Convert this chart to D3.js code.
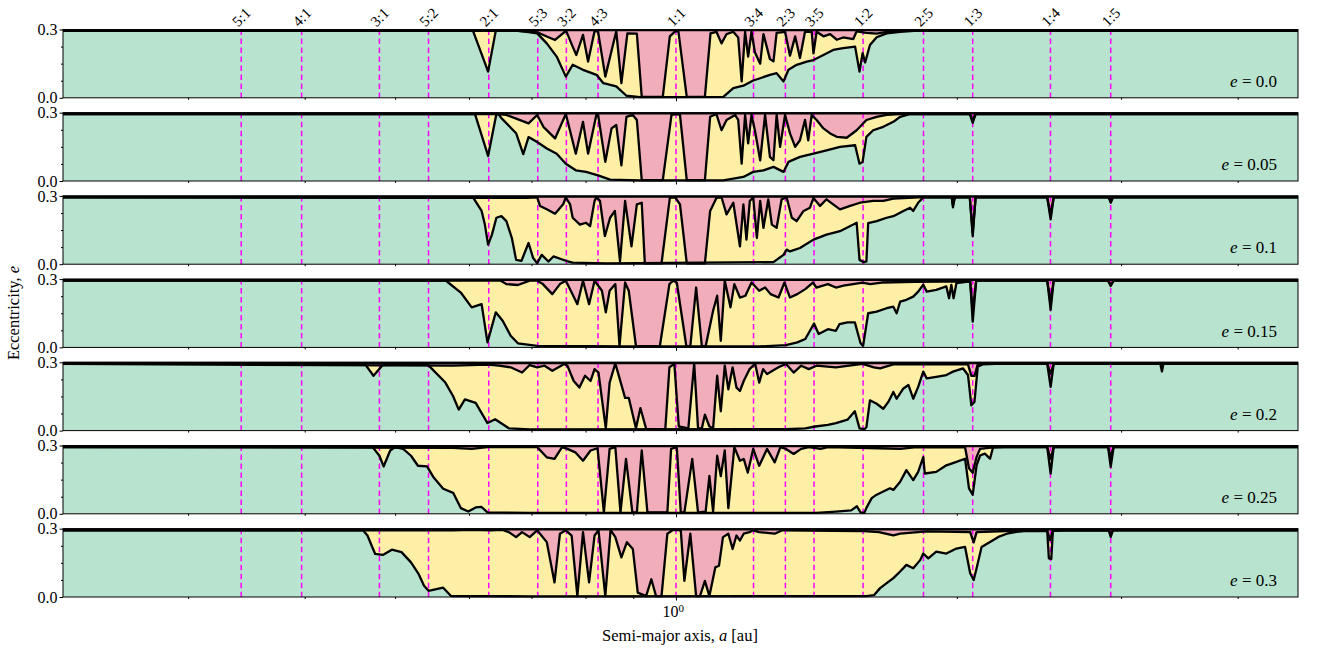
<!DOCTYPE html>
<html>
<head>
<meta charset="UTF-8">
<title>Stability map</title>
<style>
    body { margin: 0; padding: 0; background: #ffffff; }
    svg text { font-family: "Liberation Serif", "DejaVu Serif", serif; fill: #000; }
</style>
</head>
<body>
<script src="https://cdn.jsdelivr.net/npm/d3@7"></script>
<svg id="chart" width="1326" height="655"></svg>
<script>
    // panel labels (initial eccentricity)
    const eccLabels = ["0.0", "0.05", "0.1", "0.15", "0.2", "0.25", "0.3"];

    // mean motion resonances
    const resNames = ["5:1", "4:1", "3:1", "5:2", "2:1", "5:3", "3:2", "4:3", "1:1",
                      "3:4", "2:3", "3:5", "1:2", "2:5", "1:3", "1:4", "1:5"];
    const resA = [0.342, 0.397, 0.481, 0.543, 0.630, 0.711, 0.763, 0.825, 1.0,
                  1.211, 1.310, 1.406, 1.587, 1.842, 2.080, 2.520, 2.924];

    const topLevel = [0.297, 0.297, 0.297, 0.297, 0.297, 0.297, 0.297];

    // boundary green/yellow  [a, e]
    const lower1 = [[0.2203,.294],[0.606,.294],[0.629,.115],[0.641,.294],[0.677,.294],[0.695,.289],[0.710,.283],[0.727,.239],[0.745,.181],[0.762,.093],[0.775,.145],[0.795,.123],[0.822,.101],[0.836,.064],[0.863,.050],[0.885,.009],[0.915,.003],[1.124,.004],[1.152,.042],[1.181,.053],[1.210,.076],[1.231,.086],[1.261,.101],[1.282,.108],[1.304,.072],[1.320,.123],[1.347,.145],[1.381,.159],[1.404,.166],[1.439,.188],[1.474,.210],[1.511,.218],[1.556,.225],[1.573,.115],[1.585,.196],[1.595,.155],[1.614,.232],[1.641,.266],[1.682,.283],[1.739,.290],[1.80,.294],[4.642,.294]];
    const lower2 = [[0.2203,.294],[0.609,.294],[0.629,.110],[0.642,.294],[0.645,.294],[0.650,.276],[0.674,.210],[0.686,.118],[0.695,.193],[0.710,.171],[0.727,.143],[0.745,.120],[0.762,.076],[0.781,.047],[0.801,.040],[0.825,.025],[0.850,.006],[0.915,.003],[1.124,.003],[1.152,.010],[1.181,.018],[1.210,.040],[1.241,.047],[1.272,.062],[1.304,.040],[1.320,.084],[1.358,.106],[1.404,.120],[1.450,.135],[1.499,.150],[1.556,.157],[1.573,.076],[1.585,.084],[1.600,.194],[1.627,.223],[1.668,.238],[1.710,.260],[1.739,.282],[1.78,.294],[2.065,.294],[2.080,.255],[2.095,.294],[4.642,.294]];
    const lower3 = [[0.2203,.294],[0.606,.293],[0.619,.234],[0.624,.174],[0.629,.086],[0.635,.130],[0.642,.204],[0.650,.211],[0.658,.189],[0.667,.115],[0.674,.019],[0.683,.015],[0.695,.093],[0.703,.027],[0.710,.004],[0.718,.041],[0.730,.012],[0.739,.034],[0.762,.015],[0.775,.007],[0.842,.004],[1.272,.009],[1.304,.041],[1.314,.064],[1.325,.056],[1.358,.071],[1.404,.108],[1.450,.130],[1.499,.145],[1.549,.174],[1.562,.182],[1.573,.019],[1.590,.009],[1.600,.012],[1.607,.180],[1.641,.189],[1.682,.204],[1.710,.211],[1.753,.234],[1.782,.248],[1.796,.234],[1.818,.270],[1.841,.294],[1.975,.294],[1.981,.250],[1.990,.294],[2.065,.294],[2.080,.123],[2.095,.294],[2.500,.294],[2.521,.197],[2.540,.294],[2.910,.294],[2.924,.270],[2.940,.294],[4.642,.294]];
    const lower4 = [[0.2203,.293],[0.567,.293],[0.570,.285],[0.588,.241],[0.604,.176],[0.619,.190],[0.628,.022],[0.641,.154],[0.652,.117],[0.665,.051],[0.677,.018],[0.710,.007],[0.810,.006],[0.874,.004],[1.228,.004],[1.312,.010],[1.349,.022],[1.376,.037],[1.406,.105],[1.422,.059],[1.455,.080],[1.484,.073],[1.497,.102],[1.527,.110],[1.555,.110],[1.577,.018],[1.587,.007],[1.607,.150],[1.641,.157],[1.682,.172],[1.710,.179],[1.724,.150],[1.739,.201],[1.766,.209],[1.796,.223],[1.818,.245],[1.841,.275],[1.857,.245],[1.901,.253],[1.949,.268],[1.962,.216],[1.973,.275],[1.984,.216],[1.998,.282],[2.067,.290],[2.080,.113],[2.098,.293],[2.500,.293],[2.521,.165],[2.540,.293],[2.905,.293],[2.924,.270],[2.945,.293],[4.642,.293]];
    const lower5 = [[0.2203,.293],[0.464,.293],[0.474,.241],[0.485,.288],[0.541,.293],[0.548,.270],[0.566,.211],[0.577,.151],[0.585,.092],[0.594,.137],[0.610,.122],[0.628,.033],[0.640,.050],[0.662,.010],[0.697,.005],[1.312,.006],[1.376,.010],[1.410,.018],[1.455,.025],[1.484,.033],[1.527,.048],[1.555,.085],[1.573,.010],[1.592,.006],[1.600,.015],[1.614,.133],[1.641,.118],[1.668,.096],[1.689,.126],[1.710,.170],[1.724,.140],[1.753,.185],[1.775,.200],[1.796,.140],[1.818,.192],[1.841,.259],[1.857,.229],[1.901,.236],[1.949,.244],[1.981,.259],[2.031,.273],[2.056,.244],[2.073,.111],[2.089,.126],[2.106,.281],[2.131,.291],[2.200,.293],[2.500,.293],[2.521,.192],[2.540,.293],[3.305,.293],[3.318,.260],[3.330,.293],[4.642,.293]];
    const lower6 = [[0.2203,.293],[0.473,.293],[0.481,.255],[0.486,.208],[0.494,.278],[0.500,.293],[0.510,.285],[0.520,.255],[0.529,.211],[0.541,.208],[0.550,.159],[0.563,.110],[0.577,.092],[0.588,.025],[0.599,.010],[0.610,.028],[0.619,.030],[0.628,.006],[0.697,.004],[1.414,.004],[1.484,.010],[1.541,.015],[1.563,.033],[1.577,.006],[1.592,.004],[1.600,.026],[1.621,.069],[1.641,.084],[1.668,.098],[1.696,.112],[1.710,.105],[1.739,.141],[1.766,.192],[1.796,.148],[1.818,.184],[1.841,.249],[1.848,.177],[1.901,.184],[1.949,.213],[1.998,.228],[2.041,.242],[2.061,.112],[2.080,.084],[2.100,.213],[2.118,.256],[2.143,.264],[2.171,.242],[2.187,.292],[2.250,.293],[2.500,.293],[2.521,.177],[2.540,.293],[2.905,.293],[2.924,.206],[2.945,.293],[4.642,.293]];
    const lower7 = [[0.2203,.293],[0.462,.293],[0.467,.270],[0.476,.189],[0.485,.185],[0.496,.208],[0.508,.197],[0.520,.152],[0.530,.100],[0.537,.049],[0.543,.027],[0.563,.041],[0.574,.004],[0.700,.003],[1.600,.004],[1.630,.008],[1.655,.039],[1.682,.061],[1.710,.083],[1.739,.112],[1.766,.141],[1.796,.126],[1.827,.162],[1.841,.191],[1.864,.170],[1.901,.199],[1.949,.191],[1.998,.213],[2.041,.220],[2.067,.104],[2.085,.075],[2.100,.126],[2.126,.220],[2.171,.242],[2.216,.264],[2.263,.278],[2.318,.286],[2.375,.290],[2.500,.290],[2.510,.170],[2.525,.167],[2.535,.290],[2.600,.293],[2.910,.293],[2.924,.264],[2.940,.293],[4.642,.293]];

    // boundary yellow/pink  [a, e]
    const upper1 = [[0.2203,.294],[0.677,.294],[0.695,.292],[0.710,.288],[0.727,.269],[0.742,.254],[0.760,.290],[0.763,.292],[0.775,.225],[0.782,.188],[0.795,.276],[0.805,.159],[0.818,.292],[0.825,.292],[0.840,.093],[0.863,.292],[0.874,.064],[0.887,.283],[0.908,.282],[0.919,.004],[0.968,.004],[0.985,.270],[0.998,.292],[1.006,.292],[1.027,.004],[1.074,.004],[1.089,.283],[1.105,.290],[1.119,.239],[1.133,.280],[1.152,.290],[1.166,.265],[1.176,.072],[1.186,.290],[1.195,.181],[1.205,.290],[1.215,.200],[1.231,.150],[1.241,.280],[1.261,.170],[1.272,.160],[1.282,.285],[1.309,.290],[1.325,.185],[1.342,.270],[1.358,.175],[1.375,.290],[1.398,.290],[1.404,.195],[1.415,.290],[1.439,.270],[1.463,.280],[1.487,.255],[1.511,.265],[1.549,.258],[1.562,.292],[1.600,.285],[1.641,.282],[1.682,.290],[1.739,.294],[4.642,.294]];
    const upper2 = [[0.2203,.294],[0.645,.294],[0.658,.290],[0.695,.253],[0.710,.290],[0.721,.238],[0.742,.187],[0.762,.294],[0.781,.120],[0.795,.260],[0.805,.120],[0.822,.294],[0.825,.294],[0.840,.084],[0.853,.231],[0.863,.246],[0.874,.069],[0.885,.282],[0.899,.290],[0.908,.268],[0.919,.004],[0.968,.004],[0.989,.290],[1.002,.294],[1.010,.290],[1.027,.004],[1.074,.004],[1.088,.282],[1.105,.294],[1.119,.223],[1.133,.268],[1.157,.290],[1.166,.268],[1.176,.076],[1.186,.290],[1.195,.165],[1.205,.290],[1.215,.223],[1.231,.091],[1.246,.290],[1.261,.106],[1.272,.091],[1.282,.290],[1.293,.150],[1.309,.290],[1.325,.209],[1.342,.150],[1.358,.179],[1.375,.268],[1.386,.179],[1.398,.290],[1.415,.268],[1.439,.231],[1.463,.209],[1.487,.194],[1.524,.190],[1.562,.223],[1.600,.268],[1.641,.282],[1.682,.290],[1.739,.294],[2.065,.294],[2.080,.270],[2.095,.294],[4.642,.294]];
    const upper3 = [[0.2203,.294],[0.692,.291],[0.710,.294],[0.715,.256],[0.727,.241],[0.742,.222],[0.757,.263],[0.762,.294],[0.770,.263],[0.775,.204],[0.789,.174],[0.801,.182],[0.809,.167],[0.818,.278],[0.822,.294],[0.829,.278],[0.839,.123],[0.850,.204],[0.860,.234],[0.871,.012],[0.882,.278],[0.896,.078],[0.908,.263],[0.919,.270],[0.926,.004],[0.965,.004],[0.985,.291],[0.998,.294],[1.010,.263],[1.027,.004],[1.074,.004],[1.088,.234],[1.105,.291],[1.119,.294],[1.133,.219],[1.152,.270],[1.171,.078],[1.181,.263],[1.190,.108],[1.200,.278],[1.210,.294],[1.221,.115],[1.231,.278],[1.241,.160],[1.256,.285],[1.267,.174],[1.282,.160],[1.298,.285],[1.314,.294],[1.331,.204],[1.347,.189],[1.370,.234],[1.392,.248],[1.404,.291],[1.427,.256],[1.450,.285],[1.474,.263],[1.499,.241],[1.537,.256],[1.575,.270],[1.627,.278],[1.668,.278],[1.710,.288],[1.822,.294],[1.975,.294],[1.981,.260],[1.990,.294],[2.065,.294],[2.080,.140],[2.095,.294],[2.500,.294],[2.521,.215],[2.540,.294],[2.910,.294],[2.924,.275],[2.940,.294],[4.642,.294]];
    const upper4 = [[0.2203,.293],[0.649,.293],[0.658,.278],[0.677,.274],[0.697,.293],[0.710,.293],[0.720,.278],[0.737,.234],[0.751,.278],[0.762,.293],[0.773,.241],[0.784,.190],[0.795,.293],[0.807,.190],[0.818,.293],[0.833,.249],[0.841,.154],[0.849,.249],[0.861,.278],[0.870,.007],[0.882,.285],[0.890,.249],[0.906,.005],[0.961,.005],[0.984,.278],[0.993,.293],[1.002,.285],[1.026,.005],[1.036,.005],[1.051,.263],[1.066,.005],[1.076,.005],[1.096,.161],[1.107,.227],[1.117,.029],[1.128,.293],[1.144,.176],[1.155,.278],[1.171,.219],[1.187,.227],[1.205,.285],[1.228,.249],[1.246,.263],[1.263,.234],[1.288,.219],[1.307,.285],[1.325,.219],[1.349,.234],[1.376,.256],[1.402,.285],[1.414,.263],[1.455,.278],[1.484,.263],[1.512,.271],[1.585,.285],[1.615,.278],[1.661,.285],[1.800,.288],[2.067,.290],[2.080,.160],[2.098,.293],[2.500,.293],[2.521,.200],[2.540,.293],[2.905,.293],[2.924,.275],[2.945,.293],[4.642,.293]];
    const upper5 = [[0.2203,.293],[0.577,.285],[0.628,.290],[0.646,.285],[0.665,.278],[0.684,.255],[0.697,.288],[0.710,.278],[0.723,.285],[0.737,.263],[0.759,.293],[0.765,.285],[0.777,.218],[0.788,.189],[0.799,.241],[0.810,.218],[0.818,.270],[0.826,.255],[0.841,.010],[0.849,.211],[0.861,.295],[0.882,.144],[0.890,.144],[0.906,.010],[0.916,.099],[0.929,.008],[0.974,.006],[0.984,.278],[0.996,.293],[1.007,.018],[1.031,.010],[1.046,.295],[1.056,.010],[1.066,.010],[1.074,.070],[1.086,.018],[1.096,.010],[1.107,.241],[1.117,.085],[1.128,.285],[1.138,.181],[1.150,.278],[1.161,.189],[1.171,.174],[1.182,.218],[1.199,.270],[1.216,.293],[1.228,.211],[1.240,.270],[1.252,.248],[1.269,.263],[1.288,.278],[1.312,.293],[1.337,.255],[1.362,.285],[1.388,.270],[1.414,.285],[1.484,.278],[1.585,.293],[1.630,.278],[1.655,.273],[1.710,.291],[1.796,.291],[2.056,.291],[2.073,.240],[2.089,.240],[2.106,.291],[2.131,.293],[2.500,.293],[2.521,.250],[2.540,.293],[4.642,.293]];
    const upper6 = [[0.2203,.293],[0.577,.290],[0.604,.285],[0.628,.293],[0.697,.293],[0.710,.293],[0.727,.248],[0.741,.241],[0.755,.293],[0.765,.285],[0.780,.270],[0.795,.233],[0.810,.278],[0.824,.288],[0.837,.006],[0.849,.285],[0.861,.293],[0.872,.006],[0.884,.241],[0.898,.006],[0.908,.006],[0.919,.278],[0.932,.006],[0.979,.006],[0.988,.285],[1.002,.293],[1.012,.006],[1.021,.006],[1.041,.241],[1.056,.006],[1.076,.010],[1.086,.166],[1.096,.010],[1.107,.255],[1.117,.166],[1.128,.278],[1.138,.025],[1.155,.293],[1.171,.233],[1.182,.241],[1.194,.181],[1.210,.285],[1.228,.211],[1.252,.285],[1.276,.226],[1.294,.293],[1.312,.285],[1.337,.263],[1.362,.285],[1.388,.293],[1.429,.285],[1.455,.293],[1.650,.288],[1.740,.285],[1.800,.292],[2.041,.292],[2.061,.200],[2.080,.180],[2.100,.250],[2.118,.285],[2.187,.292],[2.250,.293],[2.500,.293],[2.521,.240],[2.540,.293],[2.905,.293],[2.924,.250],[2.945,.293],[4.642,.293]];
    const upper7 = [[0.2203,.293],[0.577,.293],[0.604,.295],[0.634,.293],[0.652,.295],[0.662,.285],[0.674,.263],[0.684,.285],[0.697,.263],[0.710,.293],[0.727,.241],[0.741,.064],[0.751,.278],[0.762,.293],[0.773,.270],[0.784,.004],[0.795,.285],[0.807,.064],[0.818,.270],[0.826,.293],[0.840,.004],[0.851,.295],[0.861,.263],[0.874,.174],[0.886,.241],[0.899,.211],[0.910,.019],[0.929,.004],[0.941,.078],[0.952,.004],[0.965,.004],[0.979,.278],[0.993,.295],[1.012,.293],[1.021,.071],[1.036,.278],[1.051,.004],[1.061,.004],[1.074,.071],[1.086,.004],[1.102,.130],[1.112,.137],[1.123,.263],[1.138,.278],[1.150,.211],[1.161,.270],[1.171,.248],[1.182,.278],[1.199,.285],[1.210,.293],[1.228,.285],[1.276,.278],[1.300,.293],[1.575,.290],[1.650,.285],[1.710,.271],[1.739,.278],[1.857,.288],[2.067,.285],[2.085,.240],[2.100,.285],[2.263,.290],[2.318,.292],[2.500,.292],[2.517,.250],[2.535,.292],[2.910,.293],[2.924,.275],[2.940,.293],[4.642,.293]];

    const lowers = [lower1, lower2, lower3, lower4, lower5, lower6, lower7];
    const uppers = [upper1, upper2, upper3, upper4, upper5, upper6, upper7];

    const colGreen = "#b8e3cf", colYellow = "#fdefa6", colPink = "#f2adbb", colRes = "#ff00ff";

    const plotLeft = 63, plotRight = 1298,
        panelTop = 29.5, panelH = 68.3, panelStep = 83.2;

    const svg = d3.select("#chart");

    const x = d3.scaleLog().domain([0.2203, 4.642]).range([plotLeft, plotRight]);
    const y = d3.scaleLinear().domain([0, 0.3]).range([panelH, 0]);

    const area = d3.area().x(d => x(d[0])).y0(y(0)).y1(d => y(d[1]));
    const line = d3.line().x(d => x(d[0])).y(d => y(d[1]));

    eccLabels.forEach(function (lab, i) {
        const g = svg.append("g")
            .attr("transform", "translate(0," + (panelTop + i * panelStep) + ")");

        const topRow = [[x.domain()[0], topLevel[i]], [x.domain()[1], topLevel[i]]];

        g.append("path").datum(topRow).attr("d", area).attr("fill", colPink);
        g.append("path").datum(uppers[i]).attr("d", area).attr("fill", colYellow);
        g.append("path").datum(lowers[i]).attr("d", area).attr("fill", colGreen);

        // resonance positions
        g.selectAll(".res")
            .data(resA)
            .join("line")
            .attr("class", "res")
            .attr("x1", d => x(d)).attr("x2", d => x(d))
            .attr("y1", y(0.3)).attr("y2", y(0))
            .attr("stroke", colRes)
            .attr("stroke-width", 1.5)
            .attr("stroke-dasharray", "5.5,3.5");

        [topRow, uppers[i], lowers[i]].forEach(function (d) {
            g.append("path").datum(d).attr("d", line)
                .attr("fill", "none")
                .attr("stroke", "#000")
                .attr("stroke-width", 2.3)
                .attr("stroke-linejoin", "round");
        });

        // frame
        g.append("rect")
            .attr("x", plotLeft).attr("y", 0)
            .attr("width", plotRight - plotLeft).attr("height", panelH)
            .attr("fill", "none").attr("stroke", "#000").attr("stroke-width", 1);

        // y axis
        const yMajor = g.append("g").attr("transform", "translate(" + plotLeft + ",0)")
            .call(d3.axisLeft(y).tickValues([0, 0.3]).tickFormat(d3.format(".1f")).tickSize(3.5).tickPadding(2));
        yMajor.select(".domain").remove();
        yMajor.selectAll("text").style("font-size", "16px");
        const yMinor = g.append("g").attr("transform", "translate(" + plotLeft + ",0)")
            .call(d3.axisLeft(y).tickValues([0.075, 0.15, 0.225]).tickFormat("").tickSize(2));
        yMinor.select(".domain").remove();

        // x axis
        const xMinor = g.append("g").attr("transform", "translate(0," + panelH + ")")
            .call(d3.axisBottom(x).tickValues([0.3, 0.4, 0.5, 0.6, 0.7, 0.8, 0.9, 2, 3, 4]).tickFormat("").tickSize(2));
        xMinor.select(".domain").remove();
        const xMajor = g.append("g").attr("transform", "translate(0," + panelH + ")")
            .call(d3.axisBottom(x).tickValues([1]).tickFormat(i === 6 ? () => "10" : "").tickSize(3.5).tickPadding(5));
        xMajor.select(".domain").remove();
        if (i === 6) {
            xMajor.selectAll(".tick text")
                .style("font-size", "16px")
                .attr("dx", "-0.2em")
                .append("tspan")
                .attr("dy", "-0.45em")
                .style("font-size", "11px")
                .text("0");
        }

        // eccentricity label
        const t = g.append("text")
            .attr("x", 1277).attr("y", 57.5)
            .attr("text-anchor", "end")
            .style("font-size", "17px");
        t.append("tspan").style("font-style", "italic").text("e");
        t.append("tspan").text(" = " + lab);
    });

    // resonance names on top
    svg.selectAll(".resLabel")
        .data(resNames)
        .join("text")
        .attr("class", "resLabel")
        .attr("transform", (d, i) => "translate(" + (x(resA[i]) - 3) + ",27.5) rotate(-45)")
        .style("font-size", "15px")
        .text(d => d);

    // axis titles
    const xt = svg.append("text")
        .attr("x", 680).attr("y", 641)
        .attr("text-anchor", "middle")
        .style("font-size", "16.5px");
    xt.append("tspan").text("Semi-major axis, ");
    xt.append("tspan").style("font-style", "italic").text("a");
    xt.append("tspan").text(" [au]");

    const yt = svg.append("text")
        .attr("transform", "translate(19,313) rotate(-90)")
        .attr("text-anchor", "middle")
        .style("font-size", "16.5px");
    yt.append("tspan").text("Eccentricity, ");
    yt.append("tspan").style("font-style", "italic").text("e");
</script>
</body>
</html>
